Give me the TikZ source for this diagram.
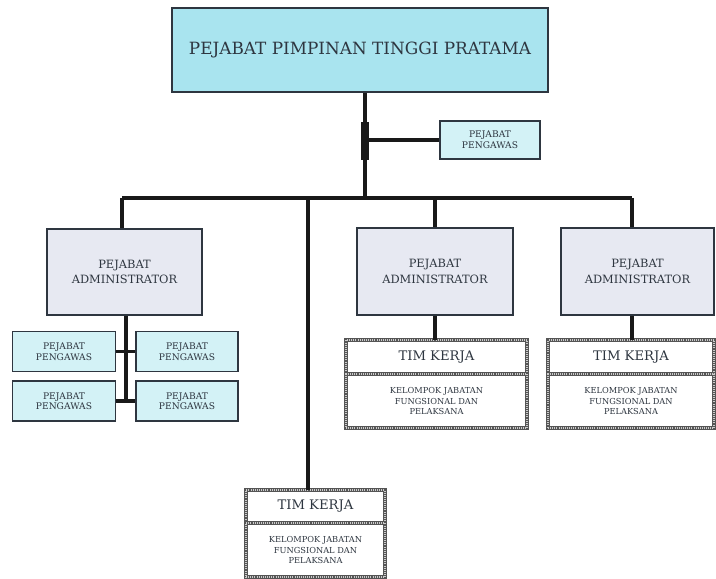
\documentclass[tikz,border=0pt]{standalone}
\usepackage{fontspec}
\setmainfont{DejaVu Serif}
\usetikzlibrary{positioning}
\definecolor{kepala}{HTML}{A9E4EF}
\definecolor{pengawas}{HTML}{D3F2F6}
\definecolor{admin}{HTML}{E7E9F2}
\definecolor{tinta}{HTML}{2E3640}
\definecolor{tepi}{HTML}{555555}
\tikzstyle{kotak}=[draw=tinta, line width=1.2pt, align=center, inner sep=0pt, text=tinta]
\tikzstyle{kepalabox}=[kotak, fill=kepala, minimum width=7.52cm, minimum height=1.68cm, font=\fontsize{9.6}{11}\selectfont]
\tikzstyle{adminbox}=[kotak, fill=admin, minimum width=3.1cm, minimum height=1.72cm, font=\fontsize{6.5}{9}\selectfont]
\tikzstyle{pengawasbox}=[kotak, fill=pengawas, line width=0.9pt, minimum width=2.06cm, minimum height=0.8cm, font=\fontsize{5.2}{6}\selectfont]
\tikzstyle{timhead}=[draw=tepi, line width=2.2pt, fill=white, outer sep=0pt, inner sep=0pt, minimum height=0.68cm, text=tinta, font=\fontsize{7.5}{9}\selectfont, postaction={draw=white!70!tepi, line width=0.6pt, dash pattern=on 0.4pt off 0.8pt}]
\tikzstyle{timbody}=[timhead, minimum height=1.08cm, align=center, font=\fontsize{4.7}{6}\selectfont]
\tikzstyle{konektor}=[line width=2.2pt, draw=black!90]

\begin{document}
\begin{tikzpicture}[x=0.02cm, y=-0.02cm]
    \useasboundingbox (0,0) rectangle (716,578);

    % pimpinan
    \node [kepalabox] (top) at (360,50) {PEJABAT PIMPINAN TINGGI PRATAMA};
    \node [pengawasbox, minimum width=2.0cm, minimum height=0.76cm] (peng0) at (490,140) {PEJABAT\\PENGAWAS};

    % administrator
    \node [adminbox] (adminL) at (124.5,272) {PEJABAT\\ADMINISTRATOR};
    \node [adminbox, minimum width=3.12cm, minimum height=1.74cm] (adminM) at (435,271.5) {PEJABAT\\ADMINISTRATOR};
    \node [adminbox, minimum width=3.06cm, minimum height=1.74cm] (adminR) at (637.5,271.5) {PEJABAT\\ADMINISTRATOR};

    % pengawas di bawah administrator kiri
    \node [pengawasbox] (peng1) at (64,351.5) {PEJABAT\\PENGAWAS};
    \node [pengawasbox, minimum width=2.04cm] (peng2) at (187,351.5) {PEJABAT\\PENGAWAS};
    \node [pengawasbox] (peng3) at (64,401) {PEJABAT\\PENGAWAS};
    \node [pengawasbox, minimum width=2.04cm] (peng4) at (187,401) {PEJABAT\\PENGAWAS};

    % tim kerja
    \node [timhead, minimum width=3.62cm] (timMhead) at (436.5,357) {TIM KERJA};
    \node [timbody, minimum width=3.62cm, below=0pt of timMhead] (timMbody) {KELOMPOK JABATAN\\FUNGSIONAL DAN\\PELAKSANA};
    \node [timhead, minimum width=3.32cm] (timRhead) at (631,357) {TIM KERJA};
    \node [timbody, minimum width=3.32cm, below=0pt of timRhead] (timRbody) {KELOMPOK JABATAN\\FUNGSIONAL DAN\\PELAKSANA};
    \node [timhead, minimum width=2.78cm, minimum height=0.66cm] (timBhead) at (315.5,506.5) {TIM KERJA};
    \node [timbody, minimum width=2.78cm, below=0pt of timBhead] (timBbody) {KELOMPOK JABATAN\\FUNGSIONAL DAN\\PELAKSANA};

    % garis
    \coordinate (bus) at (365,198);
    \coordinate (busL) at (122,198);
    \coordinate (busM) at (308,198);
    \coordinate (busR) at (632,198);
    \coordinate (kurungA) at (365,122);
    \coordinate (kurungB) at (365,160);
    \coordinate (kiriV) at (126,402);

    \draw [konektor] (top.south -| bus) -- (bus);
    \draw [konektor, line width=4pt] (kurungA) -- (kurungB);
    \draw [konektor] (bus |- peng0.west) -- (peng0.west);
    \draw [konektor] (busL) -- (busR);
    \draw [konektor] (busL) -- (busL |- adminL.north);
    \draw [konektor] (adminM.north |- busL) -- (adminM.north);
    \draw [konektor] (busR) -- (busR |- adminR.north);
    \draw [konektor] (busM) -- (busM |- timBhead.north);
    \draw [konektor] (adminM.south) -- (adminM.south |- timMhead.north);
    \draw [konektor] (adminR.south -| busR) -- (busR |- timRhead.north);
    \draw [konektor] (kiriV |- adminL.south) -- (kiriV);
    \draw [konektor] (peng1.east) -- (peng2.west);
    \draw [konektor] (peng3.east) -- (peng4.west);
\end{tikzpicture}
\end{document}
